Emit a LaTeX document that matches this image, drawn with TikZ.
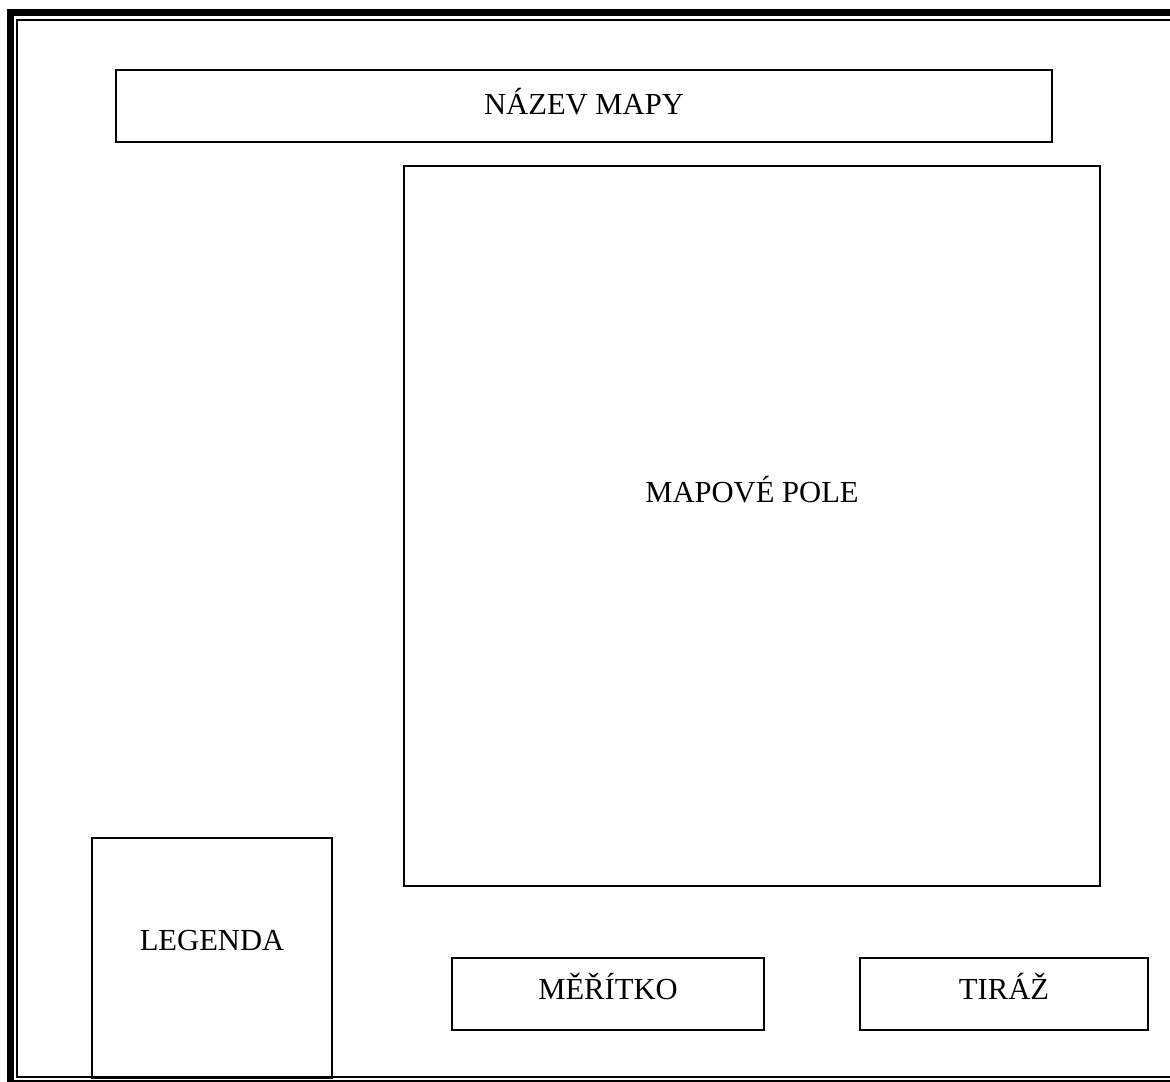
\documentclass[tikz,border=0pt]{standalone}
\usepackage{fontspec}
\setmainfont{Liberation Serif}
\usepackage{xcolor}
\usepackage{tikz}

\tikzset{
    part/.style={draw, line width=1pt, inner sep=0pt, anchor=north west},
    lbl/.style={font=\fontsize{15.3}{18}\selectfont, inner sep=0pt}
}

\begin{document}
\begin{tikzpicture}[x=0.5pt, y=-0.5pt]
    \useasboundingbox (0,0) rectangle (1170,1081);
    \begin{scope}
    \clip (0,0) rectangle (1170,1081);
    % frame
    \draw[line width=3.5pt] (10.5,12.5) rectangle (1200,1083);
    \draw[line width=1pt] (17,20) rectangle (1200,1077);
    \end{scope}
    % parts of the map sheet
    \node[part, minimum width=468pt, minimum height=36pt] (nazev) at (115,69) {};
    \node[part, minimum width=348pt, minimum height=360pt] (pole) at (403,165) {};
    \node[part, minimum width=120pt, minimum height=120pt] (legenda) at (91,837) {};
    \node[part, minimum width=156pt, minimum height=36pt] (meritko) at (451,957) {};
    \node[part, minimum width=144pt, minimum height=36pt] (tiraz) at (859,957) {};
    \node[lbl] (nazevtxt) at ([yshift=2pt]nazev.center) {NÁZEV MAPY};
    \node[lbl] (poletxt) at ([yshift=18pt]pole.center) {MAPOVÉ POLE};
    \node[lbl] (legendatxt) at ([yshift=8.5pt]legenda.center) {LEGENDA};
    \node[lbl] (meritkotxt) at ([yshift=4pt]meritko.center) {MĚŘÍTKO};
    \node[lbl] (tiraztxt) at ([yshift=4pt]tiraz.center) {TIRÁŽ};
\end{tikzpicture}
\end{document}
